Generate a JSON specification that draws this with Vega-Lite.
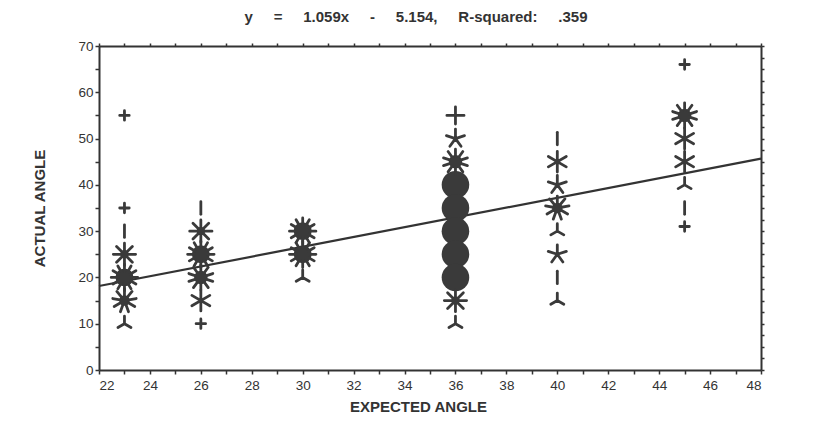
{
  "$schema": "https://vega.github.io/schema/vega-lite/v6.json",
  "width": 662,
  "height": 324,
  "autosize": {"type": "none"},
  "padding": {"left": 99, "top": 46, "right": 66, "bottom": 69},
  "background": "white",
  "title": {
    "text": "y\u00a0\u00a0\u00a0\u00a0\u00a0=\u00a0\u00a0\u00a0\u00a0\u00a01.059x\u00a0\u00a0\u00a0\u00a0\u00a0-\u00a0\u00a0\u00a0\u00a0\u00a05.154,\u00a0\u00a0\u00a0\u00a0\u00a0R-squared:\u00a0\u00a0\u00a0\u00a0\u00a0.359",
    "fontSize": 15,
    "fontWeight": "bold",
    "font": "Liberation Sans",
    "color": "#333",
    "anchor": "middle",
    "dx": -14,
    "offset": 14
  },
  "config": {
    "view": {"stroke": null},
    "axis": {
      "domainColor": "#333",
      "domainWidth": 2,
      "tickColor": "#333",
      "tickWidth": 1.5,
      "tickSize": 4,
      "grid": false,
      "labelFont": "Liberation Sans",
      "labelFontSize": 13.5,
      "labelColor": "#333",
      "titleFont": "Liberation Sans",
      "titleFontSize": 15,
      "titleFontWeight": "bold",
      "titleColor": "#333"
    }
  },
  "datasets": {
    "fit": [
      {"expected": 22, "actual": 18.144},
      {"expected": 48, "actual": 45.678}
    ],
    "obs": [
      {"expected": 23, "actual": 55, "n": 1},
      {"expected": 23, "actual": 35, "n": 1},
      {"expected": 23, "actual": 30, "n": 2},
      {"expected": 23, "actual": 25, "n": 8},
      {"expected": 23, "actual": 20, "n": 12},
      {"expected": 23, "actual": 15, "n": 9},
      {"expected": 23, "actual": 10, "n": 3},
      {"expected": 26, "actual": 35, "n": 2},
      {"expected": 26, "actual": 30, "n": 8},
      {"expected": 26, "actual": 25, "n": 12},
      {"expected": 26, "actual": 20, "n": 10},
      {"expected": 26, "actual": 15, "n": 6},
      {"expected": 26, "actual": 10, "n": 1},
      {"expected": 30, "actual": 30, "n": 12},
      {"expected": 30, "actual": 25, "n": 12},
      {"expected": 30, "actual": 20, "n": 3},
      {"expected": 36, "actual": 55, "n": 4},
      {"expected": 36, "actual": 50, "n": 5},
      {"expected": 36, "actual": 45, "n": 10},
      {"expected": 36, "actual": 40, "n": 20},
      {"expected": 36, "actual": 35, "n": 20},
      {"expected": 36, "actual": 30, "n": 20},
      {"expected": 36, "actual": 25, "n": 20},
      {"expected": 36, "actual": 20, "n": 20},
      {"expected": 36, "actual": 15, "n": 8},
      {"expected": 36, "actual": 10, "n": 3},
      {"expected": 40, "actual": 50, "n": 2},
      {"expected": 40, "actual": 45, "n": 6},
      {"expected": 40, "actual": 40, "n": 5},
      {"expected": 40, "actual": 35, "n": 9},
      {"expected": 40, "actual": 30, "n": 3},
      {"expected": 40, "actual": 25, "n": 5},
      {"expected": 40, "actual": 20, "n": 2},
      {"expected": 40, "actual": 15, "n": 3},
      {"expected": 45, "actual": 66, "n": 1},
      {"expected": 45, "actual": 55, "n": 10},
      {"expected": 45, "actual": 50, "n": 6},
      {"expected": 45, "actual": 45, "n": 6},
      {"expected": 45, "actual": 40, "n": 3},
      {"expected": 45, "actual": 35, "n": 2},
      {"expected": 45, "actual": 31, "n": 1}
    ]
  },
  "layer": [
    {
      "data": {"name": "fit"},
      "mark": {"type": "line", "color": "#333", "strokeWidth": 2.2},
      "encoding": {
        "x": {
          "field": "expected", "type": "quantitative",
          "scale": {"domain": [22, 48], "nice": false, "zero": false},
          "axis": {
            "orient": "bottom",
            "title": "EXPECTED ANGLE",
            "titleX": 319,
            "values": [22,23,24,25,26,27,28,29,30,31,32,33,34,35,36,37,38,39,40,41,42,43,44,45,46,47,48],
            "labelExpr": "datum.value % 2 == 0 ? datum.label : ''",
            "labelPadding": 4,
            "titlePadding": 8
          }
        },
        "y": {
          "field": "actual", "type": "quantitative",
          "scale": {"domain": [0, 70], "nice": false, "zero": false},
          "axis": {
            "orient": "left",
            "title": "ACTUAL ANGLE",
            "values": [0,5,10,15,20,25,30,35,40,45,50,55,60,65,70],
            "labelExpr": "datum.value % 10 == 0 ? datum.label : ''",
            "labelPadding": 2,
            "titlePadding": 30
          }
        }
      }
    },
    {
      "data": {"name": "obs"},
      "transform": [{"filter": "datum.n >= 8"}],
      "mark": {"type": "point", "shape": "circle", "filled": true, "color": "#3a3a3a", "opacity": 1},
      "encoding": {
        "x": {"field": "expected", "type": "quantitative", "axis": null},
        "y": {"field": "actual", "type": "quantitative", "axis": null},
        "size": {
          "field": "n", "type": "quantitative", "legend": null,
          "scale": {"type": "linear", "domain": [8, 9, 10, 12, 20], "range": [70, 110, 180, 320, 760]}
        }
      }
    },
    {
      "data": {"name": "obs"},
      "transform": [{"filter": "datum.n < 20"}],
      "mark": {"type": "point", "filled": false, "stroke": "#3a3a3a", "strokeWidth": 2.8, "strokeCap": "round", "opacity": 1},
      "encoding": {
        "x": {
          "field": "expected", "type": "quantitative",
          "axis": {"orient": "top", "title": null, "labels": false, "tickSize": 3,
                   "values": [22,23,24,25,26,27,28,29,30,31,32,33,34,35,36,37,38,39,40,41,42,43,44,45,46,47,48]}
        },
        "y": {
          "field": "actual", "type": "quantitative",
          "axis": {"orient": "right", "title": null, "labels": false, "tickSize": 3,
                   "values": [0,2.5,5,7.5,10,12.5,15,17.5,20,22.5,25,27.5,30,32.5,35,37.5,40,42.5,45,47.5,50,52.5,55,57.5,60,62.5,65,67.5,70]}
        },
        "shape": {
          "field": "n", "type": "ordinal", "legend": null,
          "scale": {
            "domain": [1, 2, 3, 4, 5, 6, 8, 9, 10, 12],
            "range": [
              "M0,-1L0,1M-1,0L1,0",
              "M0,-1L0,1",
              "M0,0L0,-1M0,0L-0.866,0.5M0,0L0.866,0.5",
              "M0,-1L0,1M-1,0L1,0",
              "M0,0L0,-1M0,0L0.951,-0.309M0,0L0.588,0.809M0,0L-0.588,0.809M0,0L-0.951,-0.309",
              "M0,-1L0,1M-0.866,-0.5L0.866,0.5M-0.866,0.5L0.866,-0.5",
              "M0,-1L0,1M-1,0L1,0M-0.707,-0.707L0.707,0.707M-0.707,0.707L0.707,-0.707",
              "M0,0L0,-1M0,0L0.643,-0.766M0,0L0.985,-0.174M0,0L0.866,0.5M0,0L0.342,0.94M0,0L-0.342,0.94M0,0L-0.866,0.5M0,0L-0.985,-0.174M0,0L-0.643,-0.766",
              "M0,-1L0,1M0.588,-0.809L-0.588,0.809M0.951,-0.309L-0.951,0.309M0.951,0.309L-0.951,-0.309M0.588,0.809L-0.588,-0.809",
              "M0,-1L0,1M-1,0L1,0M0.5,-0.866L-0.5,0.866M0.866,-0.5L-0.866,0.5M0.866,0.5L-0.866,-0.5M0.5,0.866L-0.5,-0.866"
            ]
          }
        },
        "size": {
          "field": "n", "type": "ordinal", "legend": null,
          "scale": {
            "domain": [1, 2, 3, 4, 5, 6, 8, 9, 10, 12],
            "range": [90, 700, 600, 650, 600, 600, 600, 600, 620, 650]
          }
        }
      }
    }
  ],
  "resolve": {
    "axis": {"x": "independent", "y": "independent"},
    "scale": {"size": "independent", "shape": "independent"}
  }
}
